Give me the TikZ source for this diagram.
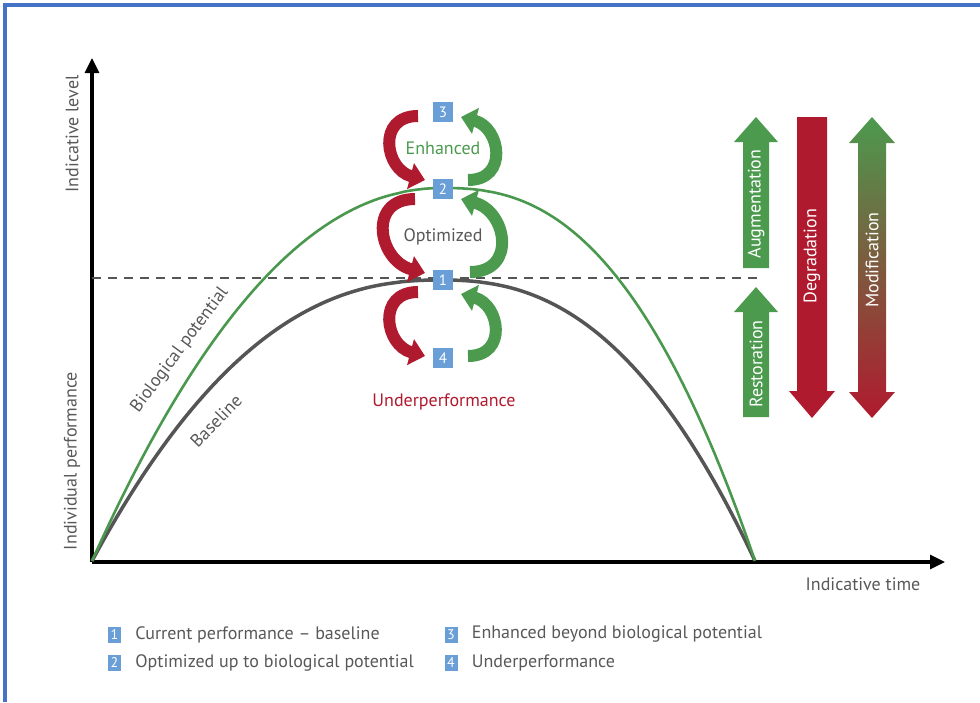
\documentclass[tikz,border=0pt]{standalone}
\usepackage{fontspec}
\setmainfont{PT Sans}
\usetikzlibrary{arrows.meta,positioning}

\definecolor{boxblue}{RGB}{106,158,214}
\definecolor{potgreen}{RGB}{74,152,78}
\definecolor{arcred}{RGB}{176,26,46}
\definecolor{arcgreen}{RGB}{76,154,78}
\definecolor{linegray}{RGB}{85,85,85}
\definecolor{textgray}{RGB}{88,88,88}
\definecolor{frameblue}{RGB}{68,114,196}

\begin{document}
\begin{tikzpicture}[x=1pt,y=1pt]
	\tikzset{
		every node/.style={font=\fontsize{18}{21}\selectfont, text=textgray, inner sep=0pt},
		numbox/.style={fill=boxblue, text=white, minimum size=20pt, font=\fontsize{15}{15}\selectfont},
		keybox/.style={numbox, minimum width=13pt, minimum height=16pt, font=\fontsize{14}{14}\selectfont},
		axis/.style={line width=3.2pt, black, -{Triangle[width=14pt,length=15pt]}},
		downarc/.style={draw=arcred, line width=12pt, -{Triangle[width=26pt,length=15pt]}, out=180, in=165, looseness=1.65},
		uparc/.style={draw=arcgreen, line width=12pt, -{Triangle[width=26pt,length=15pt]}, out=0, in=-15, looseness=1.65},
		bigtext/.style={rotate=90, text=white},
	}
	\useasboundingbox (0,0) rectangle (980,-702);
	\draw[frameblue, line width=4pt] (5,-702) -- (5,-5) -- (980,-5);
	% axes
	\coordinate (o) at (92,-562);
	\draw[axis] (o) -- (92,-58);
	\draw[axis] (o) -- (945,-562);
	\node[rotate=90] (ylev) at (72,-134) {Indicative level};
	\node[rotate=90] (yperf) at (72,-461) {Individual performance};
	\node (xtime) at (863,-584) {Indicative time};
	% curves
	\draw[linegray, dashed, dash pattern=on 9pt off 7pt, line width=2.5pt] (92,-278) -- (762,-278);
	\draw[linegray, line width=3.5pt] plot[domain=1:0.01, samples=70] ({440-348*\x},{-280-281*\x^2.3})
		-- plot[domain=0.01:1, samples=70] ({440+315*\x},{-280-281*\x^2.4});
	\draw[potgreen, line width=2.6pt] plot[domain=1:0.01, samples=70] ({443-351*\x},{-188-373*\x^2.1})
		-- plot[domain=0.01:1, samples=70] ({443+312*\x},{-188-373*\x^2.45});
	\node[rotate=53.5] (biopot) at (180,-350) {Biological potential};
	\node[rotate=46] (base) at (216,-421) {Baseline};
	% levels
	\node[numbox] (b3) at (443,-112) {3};
	\node[numbox] (b2) at (443,-189) {2};
	\node[numbox] (b1) at (443,-280) {1};
	\node[numbox] (b4) at (443,-358) {4};
	\node[text=arcgreen] (enh) at (443,-148) {Enhanced};
	\node (opt) at (443,-237) {Optimized};
	\node[text=arcred] (under) at (444,-402) {Underperformance};
	\draw[downarc] ([shift={(-25,-4)}]b3.center) to ([shift={(-18,9)}]b2.center);
	\draw[uparc] ([shift={(25,9)}]b2.center) to ([shift={(18,-5)}]b3.center);
	\draw[downarc] ([shift={(-28,-10)}]b2.center) to ([shift={(-18,7)}]b1.center);
	\draw[uparc] ([shift={(27,8)}]b1.center) to ([shift={(18,-10)}]b2.center);
	\draw[downarc] ([shift={(-25,-12)}]b1.center) to ([shift={(-18,2)}]b4.center);
	\draw[uparc] ([shift={(25,2)}]b4.center) to ([shift={(18,-14)}]b1.center);
	% intervention arrows
	\fill[arcgreen] (743,-268) -- (743,-142) -- (734,-142) -- (756,-117) -- (778,-142) -- (769,-142) -- (769,-268) -- cycle;
	\node[bigtext] (aug) at (756,-204) {Augmentation};
	\fill[arcgreen] (743,-417) -- (743,-312) -- (734,-312) -- (756,-287) -- (778,-312) -- (769,-312) -- (769,-417) -- cycle;
	\node[bigtext] (rest) at (756,-364) {Restoration};
	\fill[arcred] (797,-117) -- (827,-117) -- (827,-391) -- (835,-391) -- (812,-418) -- (789,-391) -- (797,-391) -- cycle;
	\node[bigtext] (degr) at (812,-256) {Degradation};
	\shade[top color=arcgreen, bottom color=arcred] (872,-117) -- (895,-143) -- (886,-143) -- (886,-392) -- (895,-392) -- (872,-418)
		-- (849,-392) -- (858,-392) -- (858,-143) -- (849,-143) -- cycle;
	\node[bigtext] (modif) at (872,-260) {Modification};
	% key
	\node[keybox] (k1) at (114.5,-634.5) {1};
	\node[keybox] (k2) at (114.5,-662.5) {2};
	\node[keybox] (k3) at (451,-634.5) {3};
	\node[keybox] (k4) at (451,-662.5) {4};
	\node[right=14pt of k1] (t1) {Current performance -- baseline};
	\node[right=14pt of k2] (t2) {Optimized up to biological potential};
	\node[right=14pt of k3] (t3) {Enhanced beyond biological potential};
	\node[right=14pt of k4] (t4) {Underperformance};
\end{tikzpicture}
\end{document}
